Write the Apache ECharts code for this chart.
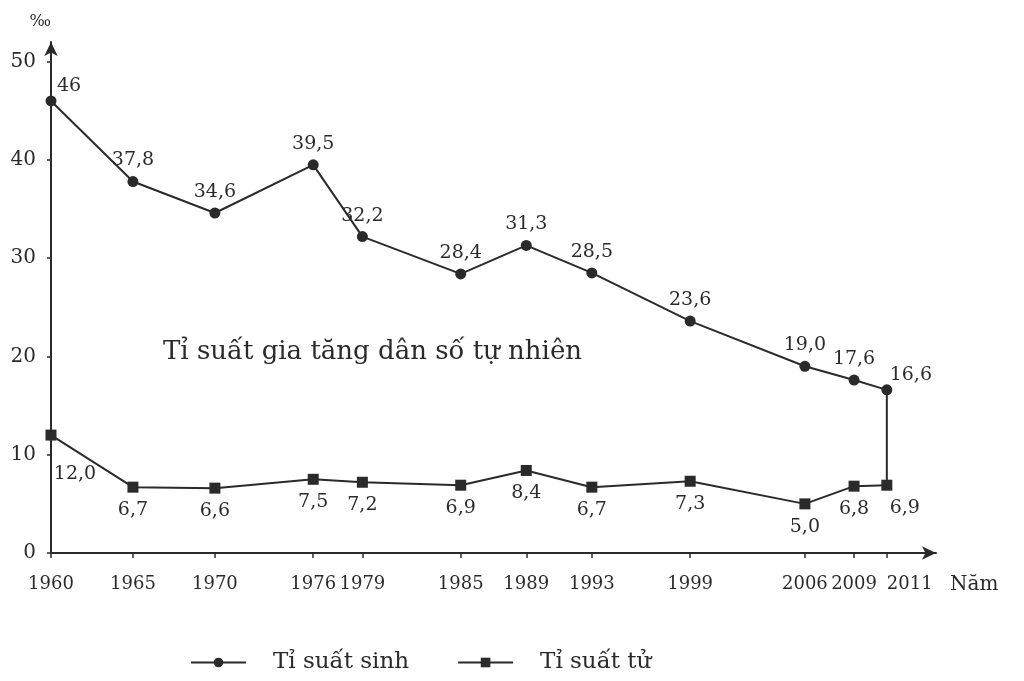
<!DOCTYPE html>
<html>
<head>
<meta charset="utf-8">
<script src="https://cdn.jsdelivr.net/npm/echarts@6/dist/echarts.min.js"></script>
<style>html,body{margin:0;padding:0;background:#fff;}#c{width:1024px;height:681px;}</style>
</head>
<body>
<div id="c"></div>
<script>
var years = [1960, 1965, 1970, 1976, 1979, 1985, 1989, 1993, 1999, 2006, 2009, 2011];
var birthRate = [46, 37.8, 34.6, 39.5, 32.2, 28.4, 31.3, 28.5, 23.6, 19.0, 17.6, 16.6];
var deathRate = [12.0, 6.7, 6.6, 7.5, 7.2, 6.9, 8.4, 6.7, 7.3, 5.0, 6.8, 6.9];
var yTicks = [0, 10, 20, 30, 40, 50];
var birthLabels = ['46', '37,8', '34,6', '39,5', '32,2', '28,4', '31,3', '28,5', '23,6', '19,0', '17,6', '16,6'];
var deathLabels = ['12,0', '6,7', '6,6', '7,5', '7,2', '6,9', '8,4', '6,7', '7,3', '5,0', '6,8', '6,9'];
var seriesNames = ['Tỉ suất sinh', 'Tỉ suất tử'];
var centerText = 'Tỉ suất gia tăng dân số tự nhiên';

var FONT = 'DejaVu Serif';
var INK = '#2a2a2a';
var last = years.length - 1;

function pts(vals, labels, firstOff, lastOff) {
  return years.map(function (y, i) {
    var lab = { formatter: labels[i] };
    if (i === 0) { lab.offset = firstOff; }
    if (i === last) { lab.offset = lastOff; }
    return { value: [y, vals[i]], label: lab };
  });
}

var chart = echarts.init(document.getElementById('c'), null, { renderer: 'canvas' });
chart.setOption({
  backgroundColor: '#ffffff',
  animation: false,
  textStyle: { fontFamily: FONT, color: INK },
  grid: { left: 51, right: 88, top: 42, bottom: 128, containLabel: false },
  legend: {
    left: 185, top: 646,
    itemWidth: 55, itemHeight: 12, itemGap: 48,
    textStyle: { fontFamily: FONT, fontSize: 23, color: INK, padding: [0, 0, 0, 22] },
    data: seriesNames
  },
  xAxis: {
    type: 'value', min: 1960, max: 2014,
    name: 'Năm', nameLocation: 'end', nameGap: 14,
    nameTextStyle: { fontFamily: FONT, fontSize: 20, color: INK, align: 'left', verticalAlign: 'top', padding: [22, 0, 0, 0] },
    splitLine: { show: false },
    axisLine: { show: true, symbol: ['none', 'arrow'], symbolSize: [10, 14], lineStyle: { color: INK, width: 2 } },
    axisTick: { show: true, customValues: years, length: 5, lineStyle: { color: INK, width: 1.5 } },
    axisLabel: {
      customValues: years, hideOverlap: false, showMinLabel: true, showMaxLabel: true,
      alignMaxLabel: 'left',
      formatter: function (v) { return String(v); },
      fontFamily: FONT, fontSize: 18, color: INK, margin: 22
    }
  },
  yAxis: {
    type: 'value', min: 0, max: 52,
    name: '‰', nameLocation: 'end', nameGap: 12,
    nameTextStyle: { fontFamily: FONT, fontSize: 16, color: INK, align: 'right' },
    splitLine: { show: false },
    axisLine: { show: true, symbol: ['none', 'arrow'], symbolSize: [10, 14], lineStyle: { color: INK, width: 2 } },
    axisTick: { show: true, customValues: yTicks, length: 4, lineStyle: { color: INK, width: 1.5 } },
    axisLabel: { customValues: yTicks, showMinLabel: true, showMaxLabel: true, fontFamily: FONT, fontSize: 20, color: INK, margin: 15 }
  },
  graphic: [{
    type: 'text', left: 163, top: 339,
    style: { text: centerText, fontFamily: FONT, fontSize: 26, fill: INK }
  }],
  series: [
    {
      name: seriesNames[0], type: 'line',
      data: pts(birthRate, birthLabels, [18, 6], [24, 6]),
      symbol: 'circle', symbolSize: 11,
      lineStyle: { color: INK, width: 2 }, itemStyle: { color: INK },
      label: { show: true, position: 'top', distance: 6, fontFamily: FONT, fontSize: 19, color: INK }
    },
    {
      name: seriesNames[1], type: 'line',
      data: pts(deathRate, deathLabels, [24, 16], [18, 0]),
      symbol: 'rect', symbolSize: 11,
      lineStyle: { color: INK, width: 2 }, itemStyle: { color: INK },
      label: { show: true, position: 'bottom', distance: 8, fontFamily: FONT, fontSize: 19, color: INK }
    },
    {
      name: 'gap', type: 'line', silent: true, symbol: 'none',
      data: [[years[last], birthRate[last]], [years[last], deathRate[last]]],
      lineStyle: { color: INK, width: 2 }
    }
  ]
});
</script>
</body>
</html>
